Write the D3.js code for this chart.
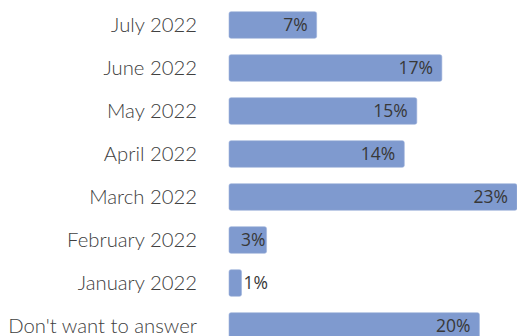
<!DOCTYPE html>
<html>
<head>
<meta charset="utf-8">
<script src="https://cdn.jsdelivr.net/npm/d3@7"></script>
<style>
  html, body { margin: 0; padding: 0; background: #fff; }
  svg { display: block; }
</style>
</head>
<body>
<svg id="chart" width="517" height="336"></svg>
<script>
// Share of respondents by month
const categories = ["July 2022", "June 2022", "May 2022", "April 2022", "March 2022",
                    "February 2022", "January 2022", "Don't want to answer"];
const values = [7, 17, 15, 14, 23, 3, 1, 20];

const W = 517, H = 336;
const svg = d3.select("#chart");

const x = d3.scaleLinear().domain([0, 23]).range([229, 517]);
const y = d3.scaleBand().domain(categories).range([3.5, 347.5]).paddingInner(0.38).paddingOuter(0.19);

const barColor = "#7f9acf";
const textColor = "#404040";

// Category labels
svg.append("g").selectAll("text")
  .data(categories)
  .join("text")
  .attr("x", 197)
  .attr("y", d => y(d) + y.bandwidth() / 2)
  .attr("dy", "0.36em")
  .attr("text-anchor", "end")
  .attr("font-family", "Lato, 'Open Sans', sans-serif")
  .attr("font-weight", 300)
  .attr("font-size", 20.3)
  .attr("fill", textColor)
  .text(d => d);

// Bars
const data = categories.map((c, i) => ({ c, v: values[i] }));
svg.append("g").selectAll("rect")
  .data(data)
  .join("rect")
  .attr("x", x(0))
  .attr("y", d => y(d.c))
  .attr("width", d => x(d.v) - x(0))
  .attr("height", y.bandwidth())
  .attr("rx", 2)
  .attr("fill", barColor)
  .attr("stroke", "#9fb3dc")
  .attr("stroke-width", 0.6);

// Value labels: inside the bar end, or just past it for very short bars
svg.append("g").selectAll("text")
  .data(data)
  .join("text")
  .attr("x", d => {
    const w = x(d.v) - x(0);
    if (w < 20) return x(d.v) + 2;
    if (w < 60) return x(d.v) - 1;
    return x(d.v) - 9;
  })
  .attr("y", d => y(d.c) + y.bandwidth() / 2)
  .attr("dy", "0.36em")
  .attr("text-anchor", d => (x(d.v) - x(0) < 20 ? "start" : "end"))
  .attr("font-family", "'Open Sans', sans-serif")
  .attr("font-size", 17.5)
  .attr("fill", "#383838")
  .text(d => d.v + "%");
</script>
</body>
</html>
